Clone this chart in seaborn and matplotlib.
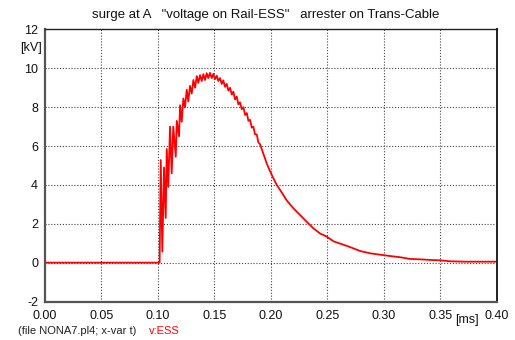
import matplotlib
matplotlib.use("Agg")
import matplotlib.pyplot as plt
import seaborn as sns
import pandas as pd

# time [ms] and voltage [kV]
t_ms = [0.0, 0.1015, 0.1025, 0.1039, 0.1054, 0.1069, 0.1078, 0.1092, 0.1107, 0.1122,
        0.1136, 0.1158, 0.1167, 0.1187, 0.1196, 0.1211, 0.1225,
        0.1240, 0.1255, 0.1269, 0.1284, 0.1299, 0.1314, 0.1329, 0.1344, 0.1358, 0.1373,
        0.1388, 0.1402, 0.1417, 0.1432, 0.1446, 0.1461, 0.1477, 0.1491, 0.1506, 0.1521,
        0.1535, 0.1550, 0.1565, 0.1579, 0.1594, 0.1609, 0.1624, 0.1639, 0.1654, 0.1668,
        0.1683, 0.1698, 0.1712, 0.1727, 0.1742, 0.1757, 0.1772, 0.1787, 0.1801, 0.1816,
        0.1831, 0.1845, 0.1860, 0.1875, 0.1889, 0.1904,
        0.1934, 0.1964, 0.1993, 0.2022, 0.2052, 0.2082, 0.2141, 0.2199, 0.2259, 0.2318,
        0.2376, 0.2436, 0.2495, 0.2554, 0.2613, 0.2702, 0.2790, 0.2879, 0.2967, 0.3056,
        0.3144, 0.3233, 0.3322, 0.3410, 0.3499, 0.3587, 0.3720, 0.3995]
v_kv = [0.0, 0.0, 5.28, 0.57, 4.9, 2.3, 5.85, 3.9, 7.0, 4.6,
        7.0, 5.45, 7.3, 6.5, 8.1, 7.25, 8.45,
        8.0, 8.9, 8.3, 9.1, 8.7, 9.4, 9.0, 9.6, 9.25, 9.65,
        9.35, 9.7, 9.4, 9.75, 9.5, 9.77, 9.5, 9.72, 9.45, 9.62,
        9.35, 9.5, 9.2, 9.38, 9.05, 9.2, 8.85, 9.0, 8.65, 8.8,
        8.4, 8.55, 8.15, 8.25, 7.9, 8.0, 7.6, 7.7, 7.3, 7.35,
        6.95, 7.0, 6.6, 6.6, 6.2, 6.1,
        5.6, 5.1, 4.7, 4.35, 4.0, 3.74, 3.2, 2.8, 2.45, 2.1,
        1.77, 1.5, 1.34, 1.1, 0.98, 0.8, 0.6, 0.48, 0.41, 0.34,
        0.28, 0.19, 0.17, 0.14, 0.12, 0.07, 0.05, 0.05]

x_ticks = [0.00, 0.05, 0.10, 0.15, 0.20, 0.25, 0.30, 0.35, 0.40]
y_ticks = [-2, 0, 2, 4, 6, 8, 10, 12]
title = 'surge at A   "voltage on Rail-ESS"   arrester on Trans-Cable'

sns.set_style("white")
plt.rcParams['font.family'] = ['Liberation Sans', 'DejaVu Sans']

df = pd.DataFrame({"t": t_ms, "v": v_kv})

fig = plt.figure(figsize=(5.15, 3.4), dpi=100)
ax = fig.add_axes([45/515, 1-301.5/340, (496.7-45)/515, (301.5-29.5)/340])

sns.lineplot(data=df, x="t", y="v", ax=ax, color="#ff0000", linewidth=1.3,
             estimator=None, sort=False)

ax.set_xlim(0, 0.40)
ax.set_ylim(-2, 12)
ax.set_xticks(x_ticks)
ax.set_xticklabels([f"{x:.2f}" for x in x_ticks])
ax.set_yticks(y_ticks)
ax.set_yticklabels([str(y) for y in y_ticks])
ax.set_xlabel("")
ax.set_ylabel("")
ax.tick_params(axis="both", direction="out", length=4, width=1, color="#444444",
               labelsize=9, pad=2, labelcolor="#111111")
ax.tick_params(axis="y", pad=1)

# dotted grid lines only at interior ticks
for x in x_ticks[1:-1]:
    ax.axvline(x, color="#444444", linestyle=(0, (1, 1.6)), linewidth=0.8, zorder=0)
for y in y_ticks[1:-1]:
    ax.axhline(y, color="#444444", linestyle=(0, (1, 1.6)), linewidth=0.8, zorder=0)

for s in ["left", "bottom"]:
    ax.spines[s].set_color("#555555")
    ax.spines[s].set_linewidth(1.6)
ax.spines["top"].set_color("#222222")
ax.spines["top"].set_linewidth(1.0)
ax.spines["right"].set_color("#222222")
ax.spines["right"].set_linewidth(1.4)

fig.text(266/515, 1-15/340, title, ha="center", va="center", fontsize=9.5, color="#111111")
fig.text(31/515, 1-48/340, "[kV]", ha="center", va="center", fontsize=9, color="#111111")
fig.text(467/515, 1-320/340, "[ms]", ha="center", va="center", fontsize=9, color="#111111")
fig.text(18/515, 1-331/340, "(file NONA7.pl4; x-var t)", ha="left", va="center",
         fontsize=8, color="#222222")
fig.text(149/515, 1-331/340, "v:ESS", ha="left", va="center", fontsize=8, color="#ff0000")

fig.savefig("out.png", dpi=100)
